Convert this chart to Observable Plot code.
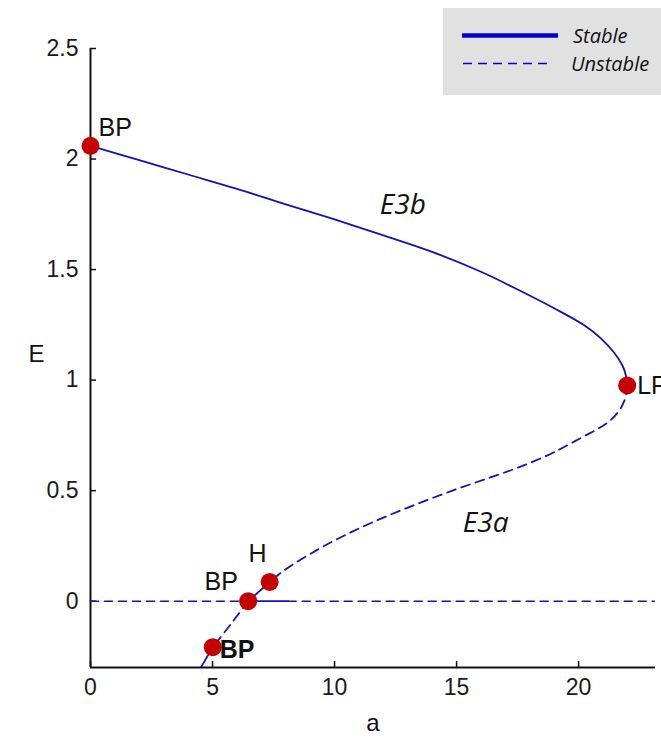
<!DOCTYPE html>
<html><head><meta charset="utf-8">
<script src="https://cdn.jsdelivr.net/npm/d3@7"></script>
<script src="https://cdn.jsdelivr.net/npm/@observablehq/plot@0.6"></script>
<style>
html,body{margin:0;padding:0;background:#fff;}
#wrap{position:relative;width:661px;height:739px;overflow:hidden;}
#legend{position:absolute;left:443px;top:8px;width:218px;height:87px;background:#e1e1e1;}
</style></head>
<body><div id="wrap"><div id="legend"></div></div>
<script>
// ---- data ----
const xTicks = [0, 5, 10, 15, 20];
const yTicks = [0, 0.5, 1, 1.5, 2, 2.5];

// Upper branch E3b (stable), from BP at a=0 to LP
const e3bA = [0, 2, 4, 6, 8, 10, 12, 14, 16, 17.5, 19, 20.2, 20.9, 21.45, 21.8, 21.94, 21.99];
const e3bE = [2.06, 1.995, 1.93, 1.865, 1.795, 1.727, 1.655, 1.58, 1.49, 1.41, 1.325, 1.25, 1.19, 1.125, 1.065, 1.02, 0.976];

// Lower branch E3a, from LP downward, split by stability
const e3aUnstable1A = [21.99, 21.95, 21.85, 21.65, 21.3, 20.8, 20.2, 19.5, 18.85, 17.49, 16.12, 14.75, 13.39, 12.02, 10.66, 9.29, 7.92, 7.34];
const e3aUnstable1E = [0.976, 0.935, 0.9, 0.86, 0.818, 0.78, 0.745, 0.703, 0.666, 0.603, 0.55, 0.497, 0.44, 0.379, 0.311, 0.232, 0.138, 0.087];
const e3aStable1A = [7.34, 6.9, 6.46];
const e3aStable1E = [0.087, 0.043, 0];
const e3aUnstable2A = [6.46, 5.74, 5.01];
const e3aUnstable2E = [0, -0.105, -0.208];
const e3aStable2A = [5.01, 4.47];
const e3aStable2E = [-0.208, -0.31];

// Trivial branch E = 0
const zeroUnstable1A = [0, 6.46];
const zeroStableA = [6.46, 8.1];
const zeroUnstable2A = [8.1, 23.1];

// Special points
const ptA = [0, 21.99, 7.34, 6.46, 5.01];
const ptE = [2.06, 0.976, 0.087, 0, -0.208];
const ptLabel = ["BP", "LP", "H", "BP", "BP"];

// Branch names
const branchA = [12.8, 16.19];
const branchE = [1.792, 0.354];
const branchLabel = ["E3b", "E3a"];

const legendLabels = ["Stable", "Unstable"];

// ---- build rows ----
const toRows = (A, E, seg) => A.map((a, i) => ({a, E: E[i], seg}));
const stableRows = [
  ...toRows(e3bA, e3bE, "e3b"),
  ...toRows(e3aStable1A, e3aStable1E, "s1"),
  ...toRows(e3aStable2A, e3aStable2E, "s2"),
  ...toRows(zeroStableA, zeroStableA.map(() => 0), "z0")
];
const unstableRows = [
  ...toRows(e3aUnstable1A, e3aUnstable1E, "u1"),
  ...toRows(e3aUnstable2A, e3aUnstable2E, "u2")
];
const zeroDashedRows = [
  ...toRows(zeroUnstable1A, zeroUnstable1A.map(() => 0), "z1"),
  ...toRows(zeroUnstable2A, zeroUnstable2A.map(() => 0), "z2")
];
const pts = ptA.map((a, i) => ({a, E: ptE[i], label: ptLabel[i], i}));
const branches = branchA.map((a, i) => ({a, E: branchE[i], label: branchLabel[i]}));

const lineColor = "#1414ad";
const dotColor = "#c40000";
const W = 661, H = 739, mL = 90, mR = 6, mT = 48, mB = 72;
const fw = W - mL - mR, fh = H - mT - mB;
const labelFont = "'Liberation Sans', Arial, sans-serif";
const italicFont = "'Open Sans', 'Noto Sans', sans-serif";

const ptStyles = [
  {dx: 8, dy: -18, textAnchor: "start"},
  {dx: 10, dy: 1, textAnchor: "start"},
  {dx: -12, dy: -28, textAnchor: "middle"},
  {dx: -27, dy: -19, textAnchor: "middle"},
  {dx: 7, dy: 3, textAnchor: "start", fontWeight: "bold"}
];

const plot = Plot.plot({
  width: W, height: H,
  marginLeft: mL, marginRight: mR, marginTop: mT, marginBottom: mB,
  style: {fontFamily: labelFont, fontSize: "23px", color: "#1a1a1a", background: "transparent", overflow: "visible"},
  x: {domain: [0, 23.15]},
  y: {domain: [-0.3, 2.5]},
  marks: [
    Plot.axisX({ticks: xTicks, tickSize: 0, tickPadding: 11, tickFormat: d => String(d), label: null, fontSize: 23}),
    Plot.axisY({ticks: yTicks, tickSize: 0, tickPadding: 12, tickFormat: d => String(d), label: null, fontSize: 23}),
    Plot.tickX(xTicks, {x: d => d, insetTop: fh - 6, stroke: "#111", strokeWidth: 1.5}),
    Plot.tickY(yTicks, {y: d => d, insetRight: fw - 6, stroke: "#111", strokeWidth: 1.5}),
    Plot.ruleX([0], {stroke: "#111", strokeWidth: 2}),
    Plot.ruleY([-0.3], {stroke: "#111", strokeWidth: 2}),
    Plot.line(zeroDashedRows, {x: "a", y: "E", z: "seg", stroke: lineColor, strokeWidth: 1.6, strokeDasharray: "8,6"}),
    Plot.line(unstableRows, {x: "a", y: "E", z: "seg", stroke: lineColor, strokeWidth: 1.8, strokeDasharray: "9,6", curve: "catmull-rom", clip: true}),
    Plot.line(stableRows, {x: "a", y: "E", z: "seg", stroke: lineColor, strokeWidth: 1.8, curve: "catmull-rom", clip: true}),
    Plot.dot(pts, {x: "a", y: "E", r: 9, fill: dotColor, stroke: "none"}),
    ...ptStyles.map((s, k) => Plot.text(pts.filter(d => d.i === k), {
      x: "a", y: "E", text: "label", fontSize: 25, fill: "#111",
      fontWeight: s.fontWeight || "normal", dx: s.dx, dy: s.dy, textAnchor: s.textAnchor
    })),
    Plot.text(branches, {x: "a", y: "E", text: "label", fontSize: 28, fontStyle: "italic", fontFamily: italicFont, fill: "#111"}),
    Plot.text(["a"], {frameAnchor: "bottom", dy: 63, text: d => d, fontSize: 24, fill: "#111"}),
    Plot.text(["E"], {frameAnchor: "left", dx: -62, dy: -4, text: d => d, fontSize: 24, fill: "#111"})
  ]
});
plot.style.position = "absolute";
plot.style.left = "0px";
plot.style.top = "0px";
const wrap = document.getElementById("wrap");
wrap.insertBefore(plot, wrap.firstChild);

// legend
const leg = d3.select("#legend").append("svg").attr("width", 218).attr("height", 87);
leg.append("line").attr("x1", 19).attr("x2", 115).attr("y1", 27.5).attr("y2", 27.5)
  .attr("stroke", "#0000d0").attr("stroke-width", 4.5);
leg.append("line").attr("x1", 20).attr("x2", 108).attr("y1", 55.5).attr("y2", 55.5)
  .attr("stroke", "#0000d0").attr("stroke-width", 1.6).attr("stroke-dasharray", "9,6");
leg.selectAll("text").data(legendLabels).join("text")
  .attr("x", (d, i) => i === 0 ? 130 : 128)
  .attr("y", (d, i) => i === 0 ? 27.5 : 55.5)
  .attr("dy", "0.35em")
  .attr("font-family", italicFont)
  .attr("font-style", "italic")
  .attr("font-size", 20)
  .attr("fill", "#111")
  .text(d => d);
</script>
</body></html>
